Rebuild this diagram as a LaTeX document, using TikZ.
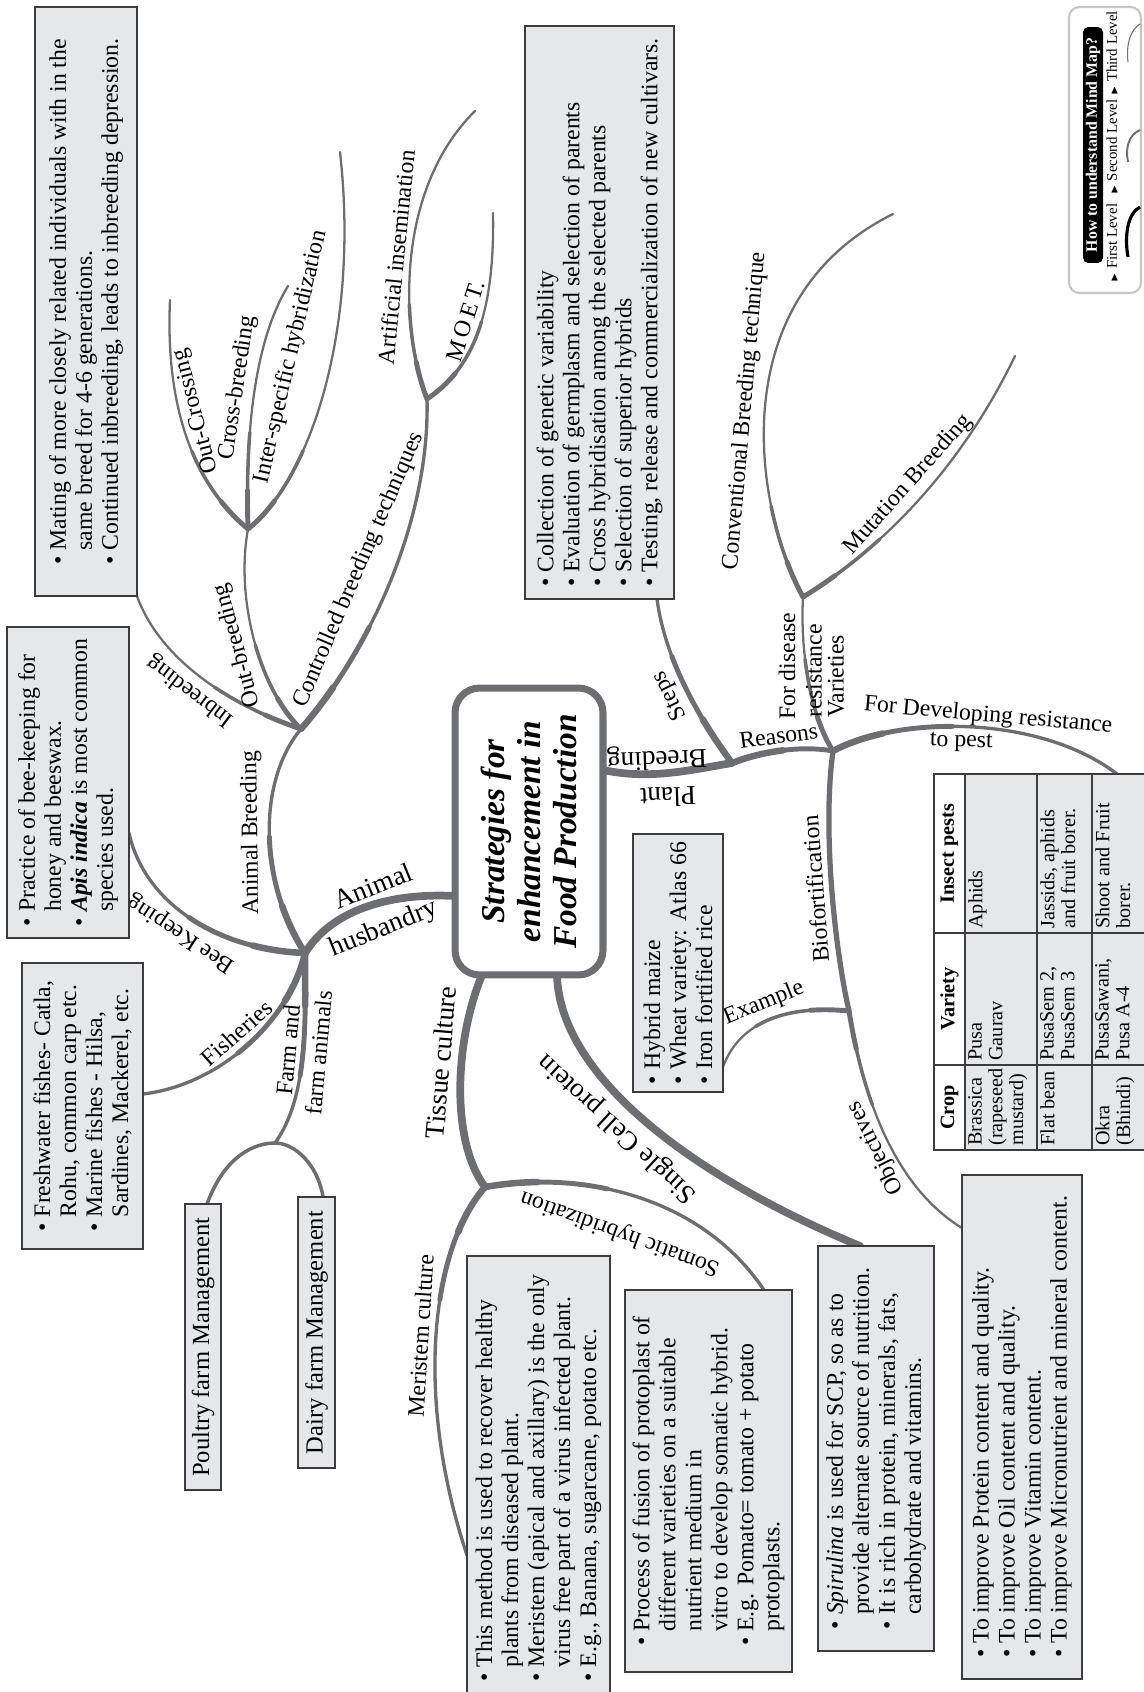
\documentclass[tikz,border=0pt]{standalone}
\usepackage{fontspec}
\setmainfont{Liberation Serif}
\usepackage{amssymb}
\usetikzlibrary{positioning, calc}

\definecolor{branchgray}{RGB}{109,110,113}
\definecolor{boxfill}{RGB}{230,231,232}
\definecolor{boxline}{RGB}{60,60,62}

\newcommand\boxfont{\fontsize{13.5}{14.8}\selectfont}
\newcommand\lblfont{\fontsize{13.5}{15}\selectfont}
\newcommand\lblbig{\fontsize{15.5}{17}\selectfont}
\newcommand\tblfont{\fontsize{11.5}{11.8}\selectfont}
\newcommand\titlefont{\fontsize{19}{20.5}\selectfont\bfseries\itshape}
\newcommand\blt{\textbullet\ }
\newcommand\bind{\hphantom{\textbullet\ }}
\newcommand\tri{{\fontsize{5}{5}\selectfont$\blacktriangleright$}}

\tikzset{
  lvlone/.style={draw=branchgray, line width=4.4pt, line cap=round},
  lvlflat/.style={draw=branchgray, line width=3pt, line cap=round},
  lvltwo/.style={draw=branchgray, line width=1.9pt, line cap=round,
    postaction={draw=branchgray, line width=2.8pt, dash pattern=on 70pt off 3000pt},
    postaction={draw=branchgray, line width=3.7pt, dash pattern=on 30pt off 3000pt}},
  lvlthree/.style={draw=branchgray, line width=1.3pt, line cap=round,
    postaction={draw=branchgray, line width=2pt, dash pattern=on 55pt off 3000pt},
    postaction={draw=branchgray, line width=2.8pt, dash pattern=on 22pt off 3000pt}},
  thinline/.style={draw=branchgray, line width=2pt, line cap=round},
  lab/.style={sloped, allow upside down, inner sep=1.5pt, font=\lblfont},
  labup/.style={sloped, inner sep=1.5pt, font=\lblfont},
  labbig/.style={lab, font=\lblbig},
  lbl/.style={rotate=90, inner sep=1pt, font=\lblfont},
  infobox/.style={draw=boxline, fill=boxfill, line width=0.9pt, rotate=90, align=left, inner sep=2pt, font=\boxfont},
  namebox/.style={draw=boxline, fill=boxfill, line width=0.9pt, rotate=90, inner sep=2pt, font=\fontsize{14}{15}\selectfont},
  ctrbox/.style={draw=branchgray, line width=4pt, fill=white, rounded corners=14pt, rotate=90, align=center, font=\titlefont},
  tblcell/.style={rotate=90, align=left, inner sep=0pt, font=\tblfont, anchor=north west},
  tblhead/.style={rotate=90, inner sep=0pt, font=\tblfont\bfseries},
  tblline/.style={draw=boxline, line width=0.9pt},
  legtxt/.style={rotate=90, inner sep=1pt, font=\fontsize{8.5}{9}\selectfont}
}

\begin{document}
\begin{tikzpicture}[x=0.02cm, y=-0.02cm]
\useasboundingbox (0,0) rectangle (1143,1692);

% junctions
\coordinate (jAH) at (305,953);
\coordinate (jAB) at (301,729);
\coordinate (jOB) at (248,529);
\coordinate (jCB) at (427,399);
\coordinate (jFF) at (275,1143);
\coordinate (jTC) at (485,1187);
\coordinate (jPB) at (732,763);
\coordinate (jRV) at (833,751);
\coordinate (jCM) at (803,597);
\coordinate (jEX) at (849,1011);
% branch ends
\coordinate (ctrL) at (455,896);
\coordinate (ctrR) at (603,770);
\coordinate (ctrB1) at (482,975);
\coordinate (ctrB2) at (557,975);
\coordinate (inE) at (137,596);
\coordinate (beeE) at (129,833);
\coordinate (fishE) at (143,1094);
\coordinate (poulE) at (207,1204);
\coordinate (dairE) at (323,1197);
\coordinate (ocE) at (170,300);
\coordinate (cbE) at (288,286);
\coordinate (isE) at (340,152);
\coordinate (aiE) at (475,111);
\coordinate (moE) at (493,213);
\coordinate (merE) at (467,1555);
\coordinate (somE) at (764,1290);
\coordinate (scpE) at (860,1246);
\coordinate (stepE) at (657,599);
\coordinate (convE) at (893,214);
\coordinate (mutE) at (1015,356);
\coordinate (pestE) at (1117,774);
\coordinate (objE) at (962,1228);
\coordinate (exE) at (723,1067);

% first level
\draw[lvlone] (jAH) .. controls (335,905) and (400,893) .. (ctrL);
\node[lab, font=\lblbig, rotate=22] (lAnimal) at (373,886) {Animal};
\node[lab, font=\lblbig, rotate=22] (lHusb) at (384,929) {husbandry};
\draw[lvlone] (jPB) .. controls (690,770) and (650,780) .. (ctrR);
\node[lab, font=\lblbig, rotate=182] (lBreed) at (657,758) {Breeding};
\node[lab, font=\lblbig, rotate=182] (lPlant) at (668,797) {Plant};
\draw[lvlone] (jTC) .. controls (450,1140) and (455,1040) .. (ctrB1)
  node[labbig, pos=0.6, above=2.5pt] (lTissue) {Tissue culture};
\draw[lvlone] (scpE) .. controls (700,1180) and (560,1080) .. (ctrB2)
  node[labbig, pos=0.55, above=2.5pt] (lSCP) {Single Cell protein};

% second level
\draw[lvltwo] (jAH) .. controls (258,880) and (258,780) .. (jAB)
  node[lab, pos=0.5, above=1.5pt] (lAB) {Animal Breeding};
\draw[lvltwo] (jAH) .. controls (220,950) and (145,905) .. (beeE)
  node[lab, pos=0.5, above=1.5pt] (lBee) {Bee Keeping};
\draw[lvltwo] (jAH) .. controls (290,1020) and (220,1085) .. (fishE)
  node[labup, pos=0.5, above=2pt] (lFish) {Fisheries};
\draw[lvltwo] (jAH) .. controls (305,1010) and (310,1095) .. (jFF)
  node[labup, pos=0.5, above=1.5pt] (lFarm) {Farm and}
  node[labup, pos=0.5, below=1.5pt] (lFarmAn) {farm animals};
\draw[lvltwo] (jAB) .. controls (370,650) and (430,520) .. (jCB);
\node[lab, rotate=66.6] (lCtrl) at (359,570) {Controlled breeding techniques};
\draw[lvltwo] (jTC) .. controls (430,1250) and (415,1400) .. (merE)
  node[labup, pos=0.5, above=1.5pt] (lMer) {Meristem culture};
\draw[lvltwo] (jTC) .. controls (580,1170) and (700,1195) .. (somE);
\node[lab, rotate=160] (lSom) at (620,1233) {Somatic hybridization};
\draw[lvltwo] (jPB) .. controls (700,720) and (665,660) .. (stepE)
  node[lab, pos=0.5, above=1.5pt] (lSteps) {Steps};
\draw[lvltwo] (jPB) .. controls (760,752) and (800,745) .. (jRV)
  node[lab, pos=0.5, above=1.5pt] (lReas) {Reasons};
\draw[lvltwo] (jRV) .. controls (900,715) and (1040,715) .. (pestE)
  node[lab, pos=0.47, below=1.5pt] (lPest) {to pest};
\node[lab, rotate=-5] (lDev) at (988,716) {For Developing resistance};
\draw[lvlflat] (jEX) .. controls (835,950) and (822,830) .. (jRV)
  node[lab, pos=0.5, above=1.5pt] (lBio) {Biofortification};

% third level
\draw[lvlthree] (jAB) .. controls (230,705) and (160,660) .. (inE)
  node[lab, pos=0.5, above=1.5pt] (lInb) {Inbreeding};
\draw[lvlthree] (jAB) .. controls (260,690) and (235,600) .. (jOB)
  node[lab, pos=0.5, above=1.5pt] (lOutb) {Out-breeding};
\draw[lvlthree] (jOB) .. controls (195,485) and (165,410) .. (ocE)
  node[lab, pos=0.6, below=1.5pt] (lOutc) {Out-Crossing};
\draw[lvlthree] (jOB) .. controls (245,430) and (255,340) .. (cbE)
  node[lab, pos=0.5, above=1.5pt] (lCross) {Cross-breeding};
\draw[lvlthree] (jOB) .. controls (310,480) and (360,330) .. (isE);
\node[lab, rotate=77] (lInter) at (291,357) {Inter-specific hybridization};
\draw[lvlthree] (jCB) .. controls (400,330) and (395,190) .. (aiE)
  node[lab, pos=0.5, above=1.5pt] (lAI) {Artificial insemination};
\draw[lvlthree] (jCB) .. controls (470,370) and (495,320) .. (moE)
  node[lab, pos=0.55, above=2pt] (lMoet) {M\,O\,E\,T.};
\draw[lvlthree] (jRV) .. controls (810,715) and (800,650) .. (jCM);
\node[lbl, anchor=west] (lForDis) at (787,722) {For disease};
\node[lbl, anchor=west, align=left, font=\fontsize{13.5}{12.5}\selectfont] (lResVar) at (825,720) {resistance\\Varieties};
\draw[lvlthree] (jCM) .. controls (755,510) and (720,300) .. (convE);
\node[lab, rotate=85] (lConv) at (745,411) {Conventional Breeding technique};
\draw[lvlthree] (jCM) .. controls (880,550) and (960,470) .. (mutE)
  node[lab, pos=0.52, above=2pt] (lMut) {Mutation Breeding};
\draw[lvlthree] (jEX) .. controls (865,1110) and (900,1190) .. (objE);
\node[lab, rotate=116.5] (lObj) at (876,1148) {Objectives};
\draw[lvlthree] (jEX) .. controls (790,1005) and (740,1020) .. (exE)
  node[labup, pos=0.5, above=1.5pt] (lEx) {Example};
\draw[thinline] (poulE) .. controls (225,1155) and (255,1143) .. (jFF)
  .. controls (295,1143) and (318,1165) .. (dairE);

% centre
\node[ctrbox, minimum width=5.74cm, minimum height=2.96cm] (ctr) at (529,831.5)
  {Strategies for\\enhancement in\\Food Production};

% info boxes
\node[infobox, minimum width=11.78cm, minimum height=2.04cm] (inbox) at (86,301.5)
  {\blt Mating of more closely related individuals with in the\\
   \bind same breed for 4-6 generations.\\
   \blt Continued inbreeding, leads to inbreeding depression.};
\node[infobox, minimum width=11.46cm, minimum height=2.98cm] (stepbox) at (599.5,312.5)
  {\blt Collection of genetic variability\\
   \blt Evaluation of germplasm and selection of parents\\
   \blt Cross hybridisation among the selected parents\\
   \blt Selection of superior hybrids\\
   \blt Testing, release and commercialization of new cultivars.};
\node[infobox, minimum width=6.22cm, minimum height=2.44cm] (beebox) at (68,782.5)
  {\blt Practice of bee-keeping for\\
   \bind honey and beeswax.\\
   \blt \textbf{\textit{Apis indica}} is most common\\
   \bind species used.};
\node[infobox, minimum width=5.72cm, minimum height=2.42cm] (fishbox) at (82.5,1106)
  {\blt Freshwater fishes- Catla,\\
   \bind Rohu, common carp etc.\\
   \blt Marine fishes - Hilsa,\\
   \bind Sardines, Mackerel, etc.};
\node[namebox, minimum width=5.72cm, minimum height=0.72cm] (poultry) at (203,1347) {Poultry farm Management};
\node[namebox, minimum width=5.42cm, minimum height=0.74cm] (dairy) at (316.5,1332.5) {Dairy farm Management};
\node[infobox, minimum width=8.88cm, minimum height=2.86cm] (merbox) at (538.5,1478)
  {\blt This method is used to recover healthy\\
   \bind plants from diseased plant.\\
   \blt Meristem (apical and axillary) is the only\\
   \bind virus free part of a virus infected plant.\\
   \blt E.g., Banana, sugarcane, potato etc.};
\node[infobox, minimum width=7.64cm, minimum height=3.34cm] (sombox) at (708.5,1481)
  {\blt Process of fusion of protoplast of\\
   \bind different varieties on a suitable\\
   \bind nutrient medium in\\
   \bind vitro to develop somatic hybrid.\\
   \blt E.g. Pomato= tomato + potato\\
   \bind protoplasts.};
\node[infobox, minimum width=8.10cm, minimum height=2.32cm] (scpbox) at (876,1448.5)
  {\blt \textit{Spirulina} is used for SCP, so as to\\
   \bind provide alternate source of nutrition.\\
   \blt It is rich in protein, minerals, fats,\\
   \bind carbohydrate and vitamins.};
\node[infobox, minimum width=10.08cm, minimum height=2.40cm] (objbox) at (1022,1427)
  {\blt To improve Protein content and quality.\\
   \blt To improve Oil content and quality.\\
   \blt To improve Vitamin content.\\
   \blt To improve Micronutrient and mineral content.};
\node[infobox, minimum width=5.16cm, minimum height=1.80cm] (exbox) at (678,963)
  {\blt Hybrid maize\\
   \blt Wheat variety: Atlas 66\\
   \blt Iron fortified rice};

% table of resistant varieties
\fill[boxfill] (965,774) rectangle (1150,1150);
\draw[tblline] (934,774) rectangle (1150,1150);
\foreach \xx in {965,1037,1092}
  \draw[tblline] (\xx,774) -- (\xx,1150);
\foreach \yy in {933,1065}
  \draw[tblline] (934,\yy) -- (1150,\yy);
\node[tblhead] (hcrop) at (949.5,1107.5) {Crop};
\node[tblhead] (hvar) at (949.5,999) {Variety};
\node[tblhead] (hpest) at (949.5,853.5) {Insect pests};
\node[tblcell] (cropA) at (968,1146) {Brassica\\(rapeseed\\mustard)};
\node[tblcell] (varA) at (968,1061) {Pusa\\Gaurav};
\node[tblcell] (pestA) at (968,929) {Aphids};
\node[tblcell] (cropB) at (1040,1146) {Flat bean};
\node[tblcell] (varB) at (1040,1061) {PusaSem 2,\\PusaSem 3};
\node[tblcell] (pestB) at (1040,929) {Jassids, aphids\\and fruit borer.};
\node[tblcell] (cropC) at (1095,1146) {Okra\\(Bhindi)};
\node[tblcell] (varC) at (1095,1061) {PusaSawani,\\Pusa A-4};
\node[tblcell] (pestC) at (1095,929) {Shoot and Fruit\\borer.};

% legend
\draw[draw=gray!45, line width=1.2pt, rounded corners=6pt, fill=white] (1069,7) rectangle (1141,293);
\node[rotate=90, fill=black, text=white, rounded corners=3pt, minimum width=4.72cm, minimum height=0.4cm,
  inner sep=1pt, font=\fontsize{9}{10}\selectfont\bfseries] (legtitle) at (1093,145) {How to understand Mind Map?};
\node[legtxt] (levone) at (1112,243) {\tri\ First Level};
\node[legtxt] (levtwo) at (1112,147) {\tri\ Second Level};
\node[legtxt] (levthree) at (1112,53) {\tri\ Third Level};
\draw[line width=1.8pt] (1128,257) .. controls (1124,235) and (1128,213) .. (1140,207);
\draw[branchgray, line width=1.1pt] (1128,162) .. controls (1125,147) and (1129,135) .. (1140,130);
\draw[branchgray, line width=0.6pt] (1128,62) .. controls (1126,45) and (1130,30) .. (1140,24);
\end{tikzpicture}
\end{document}
